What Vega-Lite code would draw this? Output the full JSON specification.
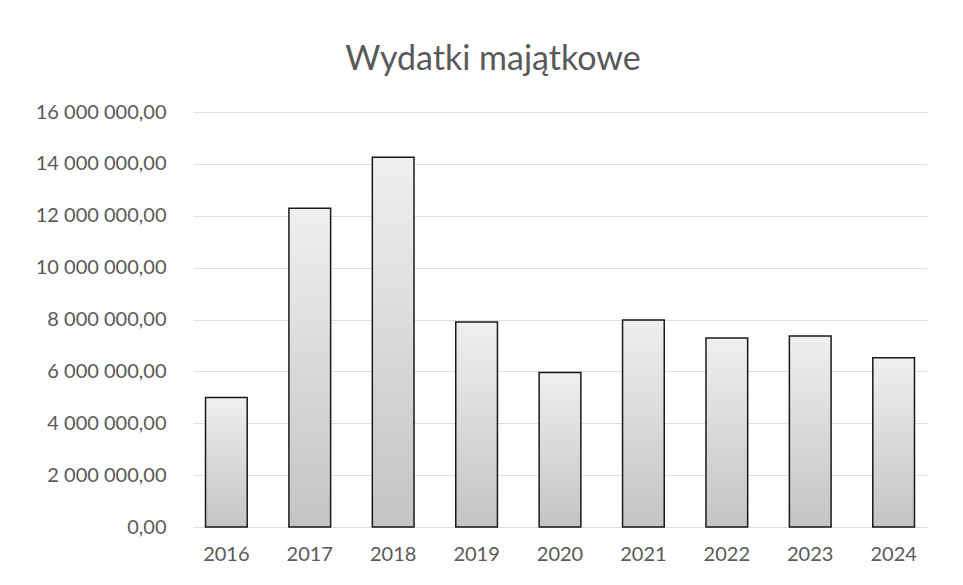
{
  "$schema": "https://vega.github.io/schema/vega-lite/v6.json",
  "autosize": "none",
  "width": 734,
  "height": 415,
  "padding": {"left": 193, "top": 112, "right": 36, "bottom": 58},
  "background": "white",
  "config": {
    "locale": {"number": {"decimal": ",", "thousands": "\u00a0", "grouping": [3], "currency": ["", ""]}},
    "view": {"stroke": null},
    "font": "Lato"
  },
  "title": {
    "text": "Wydatki majątkowe",
    "font": "Lato",
    "fontSize": 34,
    "fontWeight": "normal",
    "color": "#595959",
    "anchor": "middle",
    "dx": -67,
    "offset": 25
  },
  "data": {
    "values": [
      {"rok": "2016", "wydatki": 4990000},
      {"rok": "2017", "wydatki": 12290000},
      {"rok": "2018", "wydatki": 14260000},
      {"rok": "2019", "wydatki": 7900000},
      {"rok": "2020", "wydatki": 5960000},
      {"rok": "2021", "wydatki": 7980000},
      {"rok": "2022", "wydatki": 7290000},
      {"rok": "2023", "wydatki": 7360000},
      {"rok": "2024", "wydatki": 6530000}
    ]
  },
  "mark": {
    "type": "bar",
    "stroke": "#1a1a1a",
    "strokeWidth": 1.5,
    "color": {
      "gradient": "linear",
      "x1": 0, "y1": 0, "x2": 0, "y2": 1,
      "stops": [
        {"offset": 0, "color": "#efefef"},
        {"offset": 1, "color": "#c4c4c4"}
      ]
    }
  },
  "encoding": {
    "x": {
      "field": "rok",
      "type": "nominal",
      "scale": {"paddingInner": 0.5, "paddingOuter": 0.15},
      "axis": {
        "title": null,
        "labelAngle": 0,
        "labelFontSize": 20,
        "labelColor": "#595959",
        "labelPadding": 17,
        "ticks": false,
        "domain": false,
        "grid": false
      }
    },
    "y": {
      "field": "wydatki",
      "type": "quantitative",
      "scale": {"domain": [0, 16000000]},
      "axis": {
        "title": null,
        "values": [0, 2000000, 4000000, 6000000, 8000000, 10000000, 12000000, 14000000, 16000000],
        "format": ",.2f",
        "labelFontSize": 20,
        "labelColor": "#595959",
        "labelPadding": 27,
        "ticks": false,
        "domain": false,
        "gridColor": "#dedede",
        "gridWidth": 1
      }
    }
  }
}
